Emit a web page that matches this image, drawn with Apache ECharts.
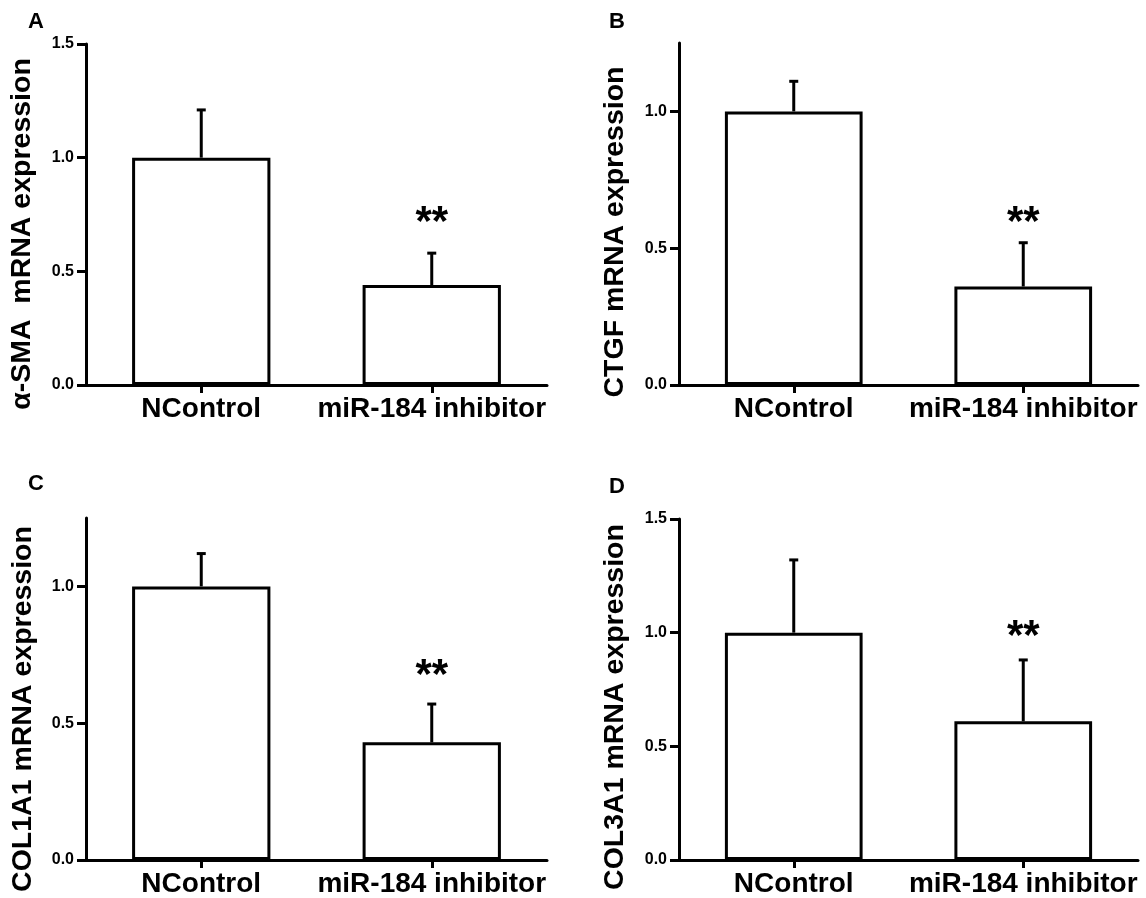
<!DOCTYPE html>
<html><head><meta charset="utf-8">
<script src="https://cdn.jsdelivr.net/npm/echarts@6/dist/echarts.min.js"></script>
<style>html,body{margin:0;padding:0;background:#fff}#c{width:1146px;height:898px}</style>
</head><body><div id="c"></div>
<script>
// ---- data ----
const categories = ['NControl', 'miR-184 inhibitor'];
const panelLetters = ['A', 'B', 'C', 'D'];
const yTitles = ['α-SMA  mRNA expression', 'CTGF mRNA expression', 'COL1A1 mRNA expression', 'COL3A1 mRNA expression'];
const meansA = [1.0, 0.44];
const errA = [0.21, 0.14];
const meansB = [1.0, 0.36];
const errB = [0.11, 0.16];
const meansC = [1.0, 0.43];
const errC = [0.12, 0.14];
const meansD = [1.0, 0.61];
const errD = [0.32, 0.27];
const yMax = [1.5, 1.25, 1.25, 1.5];
const yTickValues = [[0, 0.5, 1.0, 1.5], [0, 0.5, 1.0], [0, 0.5, 1.0], [0, 0.5, 1.0, 1.5]];
const starLabel = '**';
const starY = [0.71, 0.59, 0.67, 0.98];

// ---- layout / style ----
const FONT = '"Liberation Sans", Arial, sans-serif';
const grids = [
  { left: 86, top: 44, width: 461, height: 341 },
  { left: 679, top: 43, width: 459, height: 342 },
  { left: 86, top: 518, width: 461, height: 342 },
  { left: 679, top: 519, width: 459, height: 341 }
];
const titlePos = [[22, 234], [615, 232], [23, 709], [615, 707]];
const letterPos = [[36, 22], [617, 22], [36, 484], [617, 487]];
const allMeans = [meansA, meansB, meansC, meansD];
const allErrs = [errA, errB, errC, errD];

const xAxes = [], yAxes = [], series = [], graphics = [];
for (let k = 0; k < 4; k++) {
  xAxes.push({
    gridIndex: k, type: 'category', data: categories,
    axisLine: { show: true, lineStyle: { color: '#000', width: 3 } },
    axisTick: { show: true, alignWithLabel: true, length: 8, lineStyle: { color: '#000', width: 3 } },
    axisLabel: { interval: 0, color: '#000', fontSize: 28, fontWeight: 'bold', fontFamily: FONT, margin: 10 },
    splitLine: { show: false }
  });
  yAxes.push({
    gridIndex: k, type: 'value', min: 0, max: yMax[k], interval: 0.5,
    axisLine: { show: true, lineStyle: { color: '#000', width: 3 } },
    axisTick: { show: true, length: 9, customValues: yTickValues[k], lineStyle: { color: '#000', width: 3 } },
    axisLabel: { customValues: yTickValues[k], color: '#000', fontSize: 16, fontWeight: 'bold', fontFamily: FONT, margin: 12,
      formatter: v => Number(v).toFixed(1) },
    splitLine: { show: false }
  });
  series.push({
    type: 'bar', xAxisIndex: k, yAxisIndex: k, data: allMeans[k], barWidth: '60%',
    itemStyle: { color: '#fff', borderColor: '#000', borderWidth: 3 }, z: 2
  });
  series.push({
    type: 'custom', xAxisIndex: k, yAxisIndex: k, z: 3,
    data: allMeans[k].map((m, i) => [i, m, m + allErrs[k][i]]),
    renderItem: function (params, api) {
      const x = api.value(0);
      const p0 = api.coord([x, api.value(1)]);
      const p1 = api.coord([x, api.value(2)]);
      const hw = 4.5;
      return { type: 'group', children: [
        { type: 'line', shape: { x1: p0[0], y1: p0[1], x2: p1[0], y2: p1[1] }, style: { stroke: '#000', lineWidth: 3 } },
        { type: 'line', shape: { x1: p1[0] - hw, y1: p1[1], x2: p1[0] + hw, y2: p1[1] }, style: { stroke: '#000', lineWidth: 3 } }
      ] };
    }
  });
  series.push({
    type: 'custom', xAxisIndex: k, yAxisIndex: k, z: 4,
    data: [[1, starY[k]]],
    renderItem: function (params, api) {
      const c = api.coord([api.value(0), api.value(1)]);
      return { type: 'text', x: c[0], y: c[1], style: { text: starLabel, fontSize: 42, fontWeight: 'bold', fontFamily: FONT, fill: '#000', align: 'center', verticalAlign: 'middle' } };
    }
  });
  graphics.push({
    type: 'text', x: titlePos[k][0], y: titlePos[k][1], rotation: Math.PI / 2,
    style: { text: yTitles[k], fontSize: 28.5, fontWeight: 'bold', fontFamily: FONT, fill: '#000', align: 'center', verticalAlign: 'middle' }
  });
  graphics.push({
    type: 'text', x: letterPos[k][0], y: letterPos[k][1],
    style: { text: panelLetters[k], fontSize: 22, fontWeight: 'bold', fontFamily: FONT, fill: '#000', align: 'center', verticalAlign: 'middle' }
  });
}

const chart = echarts.init(document.getElementById('c'), null, { renderer: 'canvas' });
chart.setOption({
  animation: false,
  backgroundColor: '#fff',
  grid: grids,
  xAxis: xAxes,
  yAxis: yAxes,
  series: series,
  graphic: graphics
});
</script></body></html>
